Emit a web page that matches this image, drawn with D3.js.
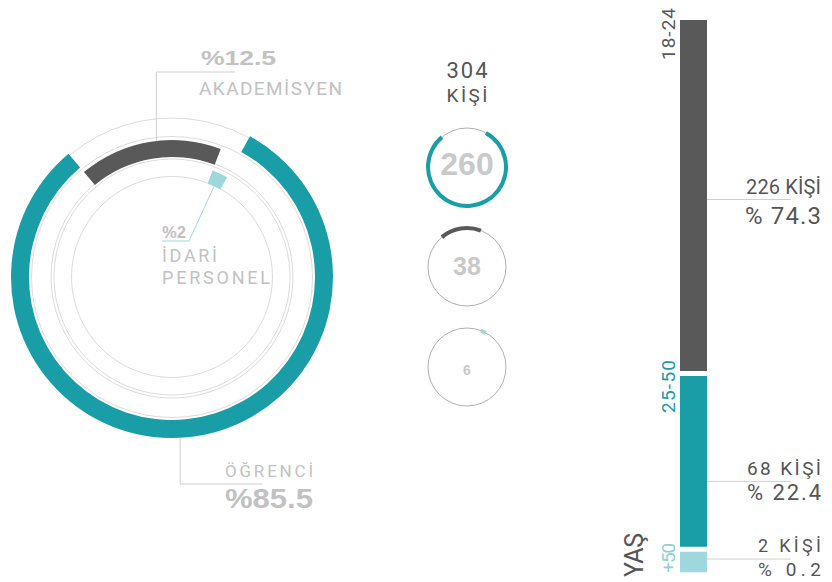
<!DOCTYPE html>
<html>
<head>
<meta charset="utf-8">
<script src="https://cdn.jsdelivr.net/npm/d3@7"></script>
<style>
  html, body { margin: 0; padding: 0; background: #fff; }
  svg { display: block; }
</style>
</head>
<body>
<svg id="chart" width="832" height="582"></svg>
<script>
// ---------------- DATA ----------------
const groups = ["AKADEMİSYEN", "İDARİ PERSONEL", "ÖĞRENCİ"];
const groupCounts = [38, 6, 260];
const groupShares = ["%12.5", "%2", "%85.5"];
const totalPeople = 304;
const totalLabel = "KİŞİ";

const ageGroups = ["18-24", "25-50", "+50"];
const ageCounts = [226, 68, 2];
const agePercents = ["% 74.3", "% 22.4", "% 0.2"];
const ageTitle = "YAŞ";

// ---------------- STYLE / LAYOUT ----------------
const COLORS = ["#595959", "#9ed8dc", "#199da6"];
const AGE_COLORS = ["#595959", "#199da6", "#9ed8dc"];
const AGE_TEXT_COLORS = ["#595959", "#199da6", "#8fd2d7"];
const LABEL_GREY = "#c2c2c2";
const DARK_TEXT = "#555555";
const THIN = "#d2d2d2";
const DIN = "Roboto, 'DejaVu Sans', sans-serif";
const BOLD = "'Liberation Sans', Arial, sans-serif";

const svg = d3.select("#chart");
const deg = Math.PI / 180;

// ---------------- BIG DONUT ----------------
const cx = 172, cy = 277;
const ringRadii = [[120, 137], [100, 114], [143, 161]];
const guideRadii = [159, 140.5, 121, 118, 100.5];

const angle = d3.scalePow().exponent(0.855)
  .domain([0, totalPeople])
  .range([-40 * deg, 320 * deg]);

const cum = d3.cumsum(groupCounts);
const slices = groupCounts.map((v, i) => ({
  i, value: v,
  a0: angle(cum[i] - v),
  a1: angle(cum[i])
}));

const donut = svg.append("g").attr("transform", `translate(${cx},${cy})`);

donut.selectAll("circle.guide").data(guideRadii).join("circle")
  .attr("class", "guide")
  .attr("r", d => d)
  .attr("fill", "none")
  .attr("stroke", THIN)
  .attr("stroke-width", 0.8);

const arcGen = d3.arc();
donut.selectAll("path.slice").data(slices).join("path")
  .attr("class", "slice")
  .attr("d", d => arcGen({
    innerRadius: ringRadii[d.i][0],
    outerRadius: ringRadii[d.i][1],
    startAngle: d.a0, endAngle: d.a1
  }))
  .attr("fill", d => COLORS[d.i]);

function pt(a, r) { return [cx + r * Math.sin(a), cy - r * Math.cos(a)]; }

// Leader: AKADEMİSYEN
{
  const s = slices[0];
  const a = s.a0 + (s.a1 - s.a0) * 0.55;
  const [x, y] = pt(a, ringRadii[0][1]);
  svg.append("polyline")
    .attr("points", `${x},${y} ${x},72 235,72`)
    .attr("fill", "none").attr("stroke", "#cfcfcf").attr("stroke-width", 1);
  svg.append("text").attr("x", 201).attr("y", 65)
    .attr("font-family", BOLD).attr("font-weight", "bold").attr("font-size", 21)
    .attr("fill", LABEL_GREY).attr("textLength", 75).attr("lengthAdjust", "spacingAndGlyphs")
    .text(groupShares[0]);
  svg.append("text").attr("x", 199).attr("y", 95)
    .attr("font-family", DIN).attr("font-size", 19)
    .attr("fill", LABEL_GREY).attr("textLength", 143).attr("lengthAdjust", "spacing")
    .text(groups[0]);
}
// Leader: İDARİ PERSONEL
{
  const s = slices[1];
  const a = (s.a0 + s.a1) / 2;
  const [x, y] = pt(a, ringRadii[1][0]);
  svg.append("polyline")
    .attr("points", `${x},${y} 189,241 162,241`)
    .attr("fill", "none").attr("stroke", "#9ed8dc").attr("stroke-width", 1);
  svg.append("text").attr("x", 162).attr("y", 238)
    .attr("font-family", BOLD).attr("font-weight", "bold").attr("font-size", 16)
    .attr("fill", LABEL_GREY).attr("textLength", 24).attr("lengthAdjust", "spacingAndGlyphs")
    .text(groupShares[1]);
  const parts = groups[1].split(" ");
  svg.append("text").attr("x", 162).attr("y", 262)
    .attr("font-family", DIN).attr("font-size", 18)
    .attr("fill", LABEL_GREY).attr("textLength", 55).attr("lengthAdjust", "spacing")
    .text(parts[0]);
  svg.append("text").attr("x", 162).attr("y", 284)
    .attr("font-family", DIN).attr("font-size", 18)
    .attr("fill", LABEL_GREY).attr("textLength", 108).attr("lengthAdjust", "spacing")
    .text(parts[1]);
}
// Leader: ÖĞRENCİ
{
  const s = slices[2];
  const a = s.a0 + (s.a1 - s.a0) * 0.509;
  const [x, y] = pt(a, ringRadii[2][1]);
  svg.append("polyline")
    .attr("points", `${x},${y} ${x},484 262,484`)
    .attr("fill", "none").attr("stroke", "#cfcfcf").attr("stroke-width", 1);
  svg.append("text").attr("x", 225).attr("y", 477)
    .attr("font-family", DIN).attr("font-size", 17)
    .attr("fill", LABEL_GREY).attr("textLength", 88).attr("lengthAdjust", "spacing")
    .text(groups[2]);
  svg.append("text").attr("x", 225).attr("y", 508)
    .attr("font-family", BOLD).attr("font-weight", "bold").attr("font-size", 28)
    .attr("fill", LABEL_GREY).attr("textLength", 88).attr("lengthAdjust", "spacingAndGlyphs")
    .text(groupShares[2]);
}

// ---------------- MIDDLE: TOTAL + SMALL CIRCLES ----------------
const mx = 467;
svg.append("text").attr("x", mx).attr("y", 78).attr("text-anchor", "middle")
  .attr("font-family", DIN).attr("font-size", 22).attr("fill", DARK_TEXT)
  .attr("textLength", 41).attr("lengthAdjust", "spacing")
  .text(totalPeople);
svg.append("text").attr("x", mx).attr("y", 102).attr("text-anchor", "middle")
  .attr("font-family", DIN).attr("font-size", 19).attr("fill", DARK_TEXT)
  .attr("textLength", 41).attr("lengthAdjust", "spacing")
  .text(totalLabel);

const smallOrder = [2, 0, 1];
const smallY = d3.scalePoint().domain(smallOrder).range([167, 367]);
const smallFont = [32, 25, 14];
const smallR = 39;

const smalls = svg.selectAll("g.small").data(smallOrder).join("g")
  .attr("class", "small")
  .attr("transform", d => `translate(${mx},${smallY(d)})`);

smalls.append("circle").attr("r", smallR)
  .attr("fill", "none").attr("stroke", "#9a9a9a").attr("stroke-width", 0.8);

smalls.append("path")
  .attr("d", d => arcGen({
    innerRadius: smallR - 2, outerRadius: smallR + 2,
    startAngle: slices[d].a0, endAngle: slices[d].a1
  }))
  .attr("fill", d => COLORS[d]);

smalls.append("text")
  .attr("text-anchor", "middle")
  .attr("y", 8)
  .attr("font-family", BOLD).attr("font-weight", "bold")
  .attr("font-size", (d, k) => smallFont[k])
  .attr("fill", "#c9c9c9")
  .text(d => groupCounts[d]);

// ---------------- RIGHT: AGE STACKED BAR ----------------
const barX = 680, barW = 27, barTop = 20, gap = 5;
const hScale = d3.scalePow().exponent(0.6)
  .domain([0, d3.max(ageCounts)])
  .range([0, 351]);

let yAcc = barTop;
const ageSegs = ageCounts.map((v, i) => {
  const h = hScale(v);
  const seg = { i, v, y: yAcc, h };
  yAcc += h + gap;
  return seg;
});

svg.selectAll("rect.age").data(ageSegs).join("rect")
  .attr("class", "age")
  .attr("x", barX).attr("width", barW)
  .attr("y", d => d.y).attr("height", d => d.h)
  .attr("fill", d => AGE_COLORS[d.i]);

// rotated age group labels
const grpOffset = [-12, -16, -9];
svg.selectAll("text.agegrp").data(ageSegs).join("text")
  .attr("class", "agegrp")
  .attr("transform", d => `translate(675,${d.y + grpOffset[d.i]}) rotate(-90)`)
  .attr("text-anchor", "end")
  .attr("font-family", DIN).attr("font-size", 19)
  .attr("fill", d => AGE_TEXT_COLORS[d.i])
  .attr("textLength", (d, k) => [52, 53, 30][k]).attr("lengthAdjust", "spacing")
  .text(d => ageGroups[d.i]);

svg.append("text")
  .attr("transform", "translate(643,577) rotate(-90)")
  .attr("font-family", DIN).attr("font-size", 25).attr("fill", DARK_TEXT)
  .attr("textLength", 44).attr("lengthAdjust", "spacing")
  .text(ageTitle);

// leaders + value labels
const labelDy = [4, 20, -3];
const labelG = svg.selectAll("g.agelbl").data(ageSegs).join("g").attr("class", "agelbl")
  .attr("transform", d => `translate(0,${d.y + d.h / 2 + labelDy[d.i]})`);

labelG.append("line")
  .attr("x1", barX + barW).attr("x2", 791)
  .attr("y1", 0).attr("y2", 0)
  .attr("stroke", "#cfcfcf").attr("stroke-width", 1);

labelG.append("text")
  .attr("x", 821).attr("y", d => [-6, -6, -7][d.i]).attr("text-anchor", "end")
  .attr("font-family", DIN).attr("font-size", d => [20, 19, 18][d.i]).attr("fill", DARK_TEXT)
  .attr("textLength", d => [75, 74, 63][d.i]).attr("lengthAdjust", "spacing")
  .text(d => `${d.v} ${totalLabel}`);

labelG.append("text")
  .attr("x", 821).attr("y", d => [24, 19, 17][d.i]).attr("text-anchor", "end")
  .attr("font-family", DIN).attr("font-size", d => [24, 22, 19][d.i]).attr("fill", DARK_TEXT)
  .attr("textLength", d => [76, 74, 63][d.i]).attr("lengthAdjust", "spacing")
  .text(d => agePercents[d.i]);
</script>
</body>
</html>
